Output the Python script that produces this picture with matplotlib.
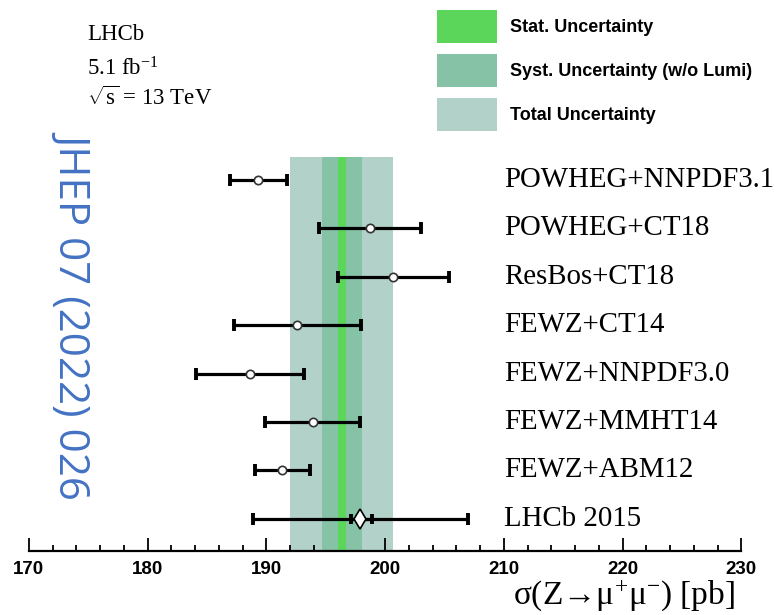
import matplotlib
matplotlib.use('Agg')
import matplotlib.pyplot as plt
from matplotlib.patches import Patch
from matplotlib.ticker import MultipleLocator

plt.rcParams['mathtext.fontset'] = 'custom'
plt.rcParams['mathtext.rm'] = 'Liberation Serif'
plt.rcParams['mathtext.it'] = 'Liberation Serif'

# predictions, top to bottom
labels = ['POWHEG+NNPDF3.1', 'POWHEG+CT18', 'ResBos+CT18', 'FEWZ+CT14',
          'FEWZ+NNPDF3.0', 'FEWZ+MMHT14', 'FEWZ+ABM12', 'LHCb 2015']
centers = [189.3, 198.7, 200.7, 192.6, 188.6, 193.9, 191.35, 197.9]
lows = [186.9, 194.4, 196.0, 187.3, 184.1, 189.9, 189.0, 188.85]
highs = [191.7, 203.0, 205.4, 198.0, 193.2, 197.9, 193.7, 207.0]
# LHCb 2015 inner (stat) error
lhcb15_stat = [197.1, 198.9]

# this measurement bands
stat_band = [196.0, 196.7]
syst_band = [194.7, 198.05]
total_band = [192.0, 200.67]

c_stat = '#5bd65b'
c_syst = '#86c2a6'
c_total = '#b2d1c8'

fig = plt.figure(figsize=(7.82, 6.15), dpi=100)
ax = fig.add_axes([0.037, 0.104, 0.911, 0.896])
ax.set_xlim(170, 230)
ylo, yhi = 0.335, 11.72
ax.set_ylim(ylo, yhi)

band_top = 8.47
ax.fill_betweenx([ylo, band_top], *total_band, color=c_total, lw=0, zorder=1)
ax.fill_betweenx([ylo, band_top], *syst_band, color=c_syst, lw=0, zorder=2)
ax.fill_betweenx([ylo, band_top], *stat_band, color=c_stat, lw=0, zorder=3)

n = len(labels)
for i, (lab, c, lo, hi) in enumerate(zip(labels, centers, lows, highs)):
    y = n - i
    ax.errorbar([c], [y], xerr=[[c - lo], [hi - c]], fmt='none', ecolor='black',
                elinewidth=2.3, capsize=4.3, capthick=2.8, zorder=5)
    if lab == 'LHCb 2015':
        ax.errorbar([c], [y], xerr=[[c - lhcb15_stat[0]], [lhcb15_stat[1] - c]],
                    fmt='none', ecolor='black', elinewidth=2.3, capsize=3.5,
                    capthick=2.8, zorder=6)
        ax.plot([c], [y], marker='d', ms=10, mfc='white', mec='black', mew=1.2, zorder=7)
    else:
        ax.plot([c], [y], marker='o', ms=6, mfc='white', mec='#333333', mew=1.2, zorder=7)
    ax.text(210, y, lab, fontsize=20.8, family='Liberation Serif', va='center', ha='left')

for s in ['top', 'left', 'right']:
    ax.spines[s].set_visible(False)
ax.spines['bottom'].set_linewidth(1.6)
ax.spines['bottom'].set_zorder(8)
ax.set_yticks([])
ax.xaxis.set_major_locator(MultipleLocator(10))
ax.xaxis.set_minor_locator(MultipleLocator(2))
ax.tick_params(axis='x', which='major', direction='in', length=9.5, width=1.3, pad=7)
ax.tick_params(axis='x', which='minor', direction='in', length=4.5, width=1.3)
for t in ax.get_xticklabels():
    t.set_fontweight('bold')
    t.set_fontsize(13.5)
    t.set_family('Liberation Sans')

fig.text(0.94, 0.003, 'σ(Z→μ$^{+}$μ$^{-}$) [pb]', fontsize=24,
         family='Liberation Serif', ha='right', va='bottom')

# experiment info
fig.text(0.111, 0.935, 'LHCb', fontsize=16.5, family='Liberation Serif')
fig.text(0.111, 0.878, r'5.1 fb$^{-1}$', fontsize=16.5, family='Liberation Serif')
fig.text(0.111, 0.829, r'$\sqrt{s}$ = 13 TeV', fontsize=16.5, family='Liberation Serif')

# journal reference
fig.text(0.094, 0.490, 'JHEP 07 (2022) 026', fontsize=30.3, family='Open Sans',
         color='#4472c4', rotation=-90, ha='center', va='center')

handles = [Patch(facecolor=c_stat, edgecolor='none', label='Stat. Uncertainty'),
           Patch(facecolor=c_syst, edgecolor='none', label='Syst. Uncertainty (w/o Lumi)'),
           Patch(facecolor=c_total, edgecolor='none', label='Total Uncertainty')]
fig.legend(handles=handles, loc='upper left', bbox_to_anchor=(0.5496, 0.9954), frameon=False,
           prop={'family': 'Liberation Sans', 'weight': 'bold', 'size': 13},
           handlelength=3.3, handleheight=2.44, labelspacing=0.61, handletextpad=0.72,
           borderaxespad=0.0)

fig.savefig('out.png', dpi=100)
